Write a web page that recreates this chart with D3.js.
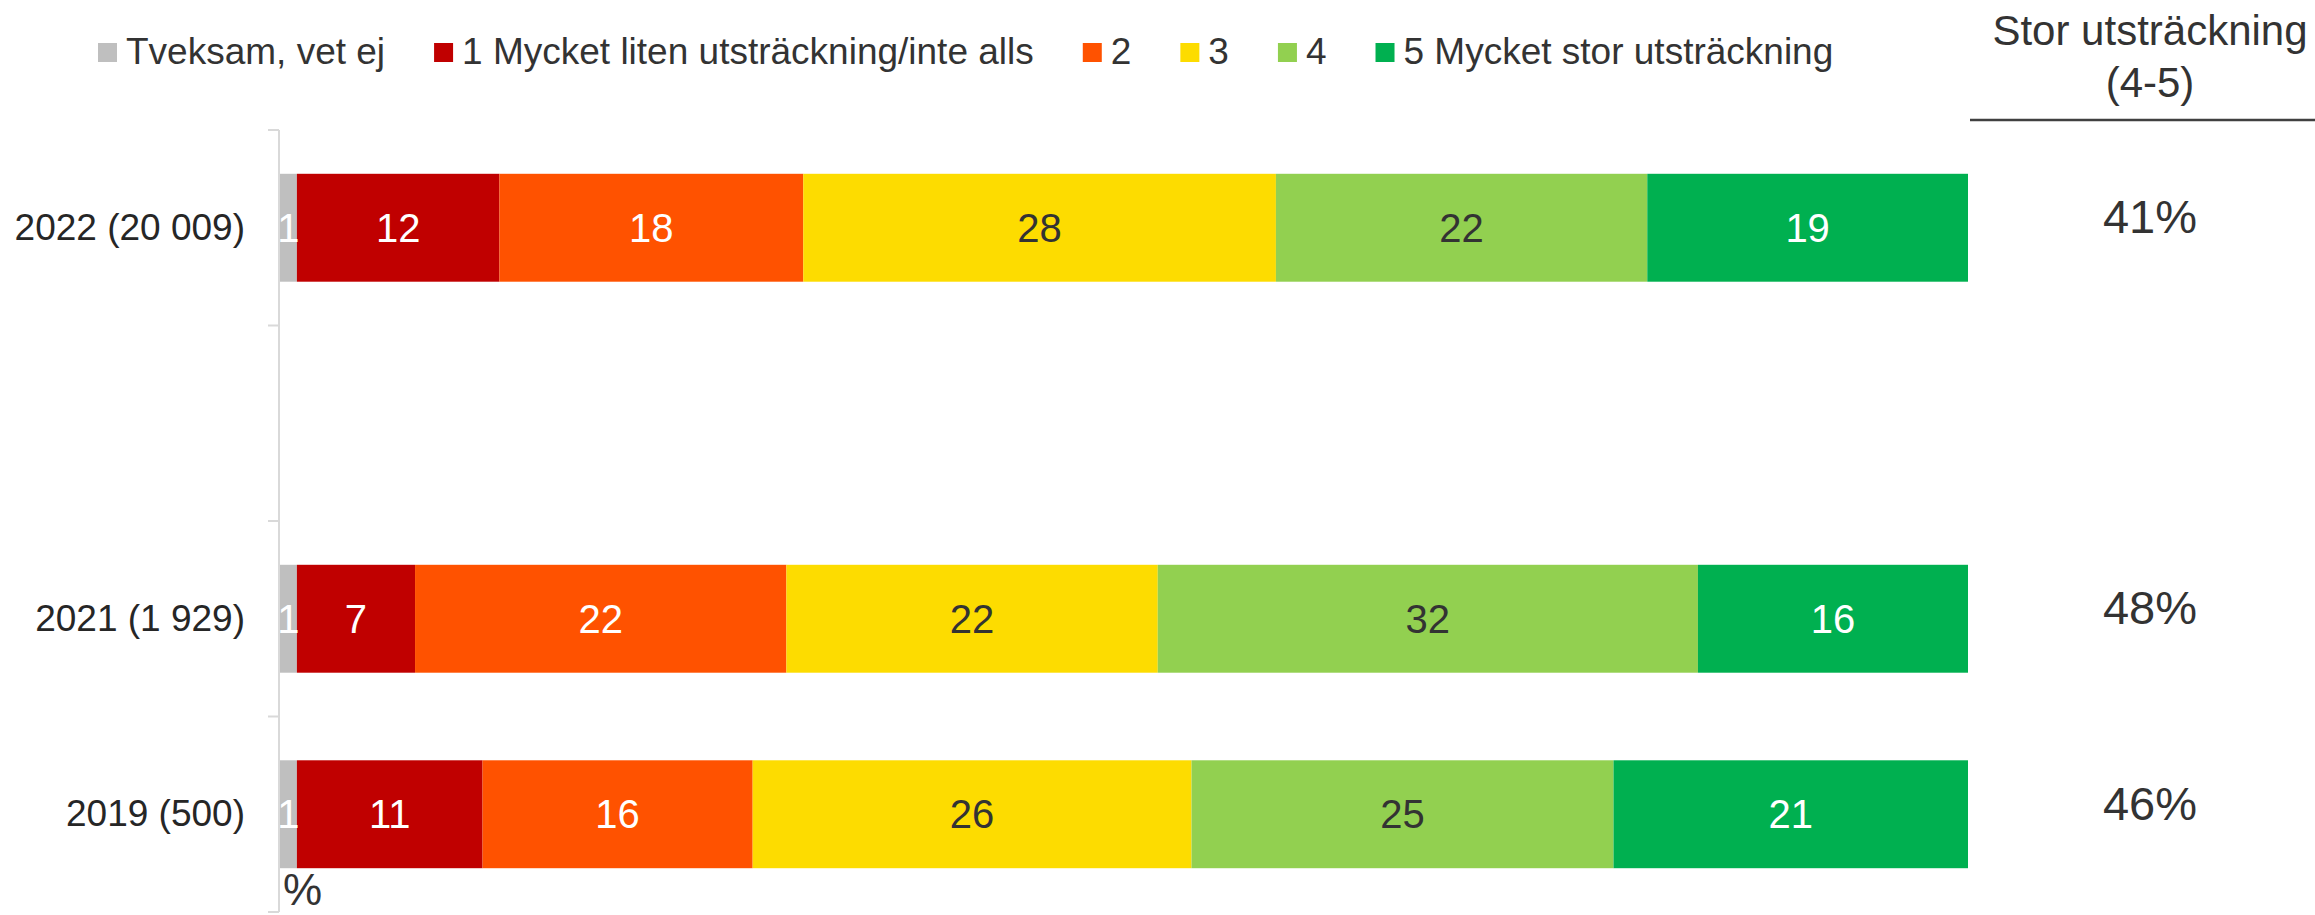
<!DOCTYPE html>
<html>
<head>
<meta charset="utf-8">
<script src="https://cdn.jsdelivr.net/npm/d3@7"></script>
<style>
  html, body { margin: 0; padding: 0; background: #fff; }
  svg { display: block; font-family: "Liberation Sans", Arial, sans-serif; }
</style>
</head>
<body>
<svg id="chart" width="2315" height="915"></svg>
<script>
// Survey rows (blank row keeps the gap between 2022 and 2021)
const categories = ["2022 (20 009)", "", "2021 (1 929)", "2019 (500)"];
const rowKeys = ["r2022", "gap", "r2021", "r2019"];

// Share of answers per response level, percent
const tveksam = [1, null, 1, 1];
const level1  = [12, null, 7, 11];
const level2  = [18, null, 22, 16];
const level3  = [28, null, 22, 26];
const level4  = [22, null, 32, 25];
const level5  = [19, null, 16, 21];

// Summed share for levels 4-5, percent
const storTotal = [41, null, 48, 46];

const seriesNames = [
  "Tveksam, vet ej",
  "1 Mycket liten utsträckning/inte alls",
  "2",
  "3",
  "4",
  "5 Mycket stor utsträckning"
];
const seriesValues = [tveksam, level1, level2, level3, level4, level5];
const seriesColors = ["#bfbfbf", "#c00000", "#ff5200", "#fddc00", "#92d050", "#00b050"];
const labelColors  = ["#ffffff", "#ffffff", "#ffffff", "#333333", "#333333", "#ffffff"];

const summaryTitle = ["Stor utsträckning", "(4-5)"];
const unitLabel = "%";

const svg = d3.select("#chart");

const plotLeft = 280, plotRight = 1968, plotTop = 130, plotBottom = 912;

const x = d3.scaleLinear().domain([0, 100]).range([plotLeft, plotRight]);
const y = d3.scaleBand()
  .domain(rowKeys)
  .range([plotTop, plotBottom])
  .paddingInner(0.448)
  .paddingOuter(0.224);

// Stack rows
const rows = rowKeys.map((k, i) => {
  const o = { key: k, label: categories[i] };
  seriesValues.forEach((arr, s) => { o["s" + s] = arr[i] == null ? 0 : arr[i]; });
  return o;
});
const stack = d3.stack().keys(seriesValues.map((_, s) => "s" + s));
const stacked = stack(rows);

// Clip to plot area
svg.append("defs").append("clipPath").attr("id", "plotClip")
  .append("rect").attr("x", plotLeft - 1).attr("y", 0)
  .attr("width", plotRight - plotLeft + 2).attr("height", 915);

const plot = svg.append("g").attr("clip-path", "url(#plotClip)");

stacked.forEach((layer, s) => {
  const g = plot.append("g");
  layer.forEach((d, i) => {
    const v = seriesValues[s][i];
    if (v == null) return;
    g.append("rect")
      .attr("x", x(d[0]))
      .attr("y", y(rowKeys[i]))
      .attr("width", x(d[1]) - x(d[0]))
      .attr("height", y.bandwidth())
      .attr("fill", seriesColors[s]);
  });
});

stacked.forEach((layer, s) => {
  layer.forEach((d, i) => {
    const v = seriesValues[s][i];
    if (v == null) return;
    plot.append("text")
      .attr("x", (x(d[0]) + x(d[1])) / 2)
      .attr("y", y(rowKeys[i]) + y.bandwidth() / 2)
      .attr("dy", "0.35em")
      .attr("text-anchor", "middle")
      .attr("font-size", 40)
      .attr("fill", labelColors[s])
      .text(v);
  });
});

// Category axis
const yAxis = d3.axisLeft(y).tickSize(0).tickPadding(34).tickFormat((k, i) => categories[i]);
const axisG = svg.append("g").attr("transform", `translate(${plotLeft - 1},0)`).call(yAxis);
axisG.select(".domain").remove();
axisG.selectAll("text").attr("font-size", 37).attr("fill", "#262626")
  .attr("font-family", "Liberation Sans, Arial, sans-serif");

// Axis line with boundary ticks between rows
const boundaries = rowKeys.map(k => y(k) - y.step() * y.paddingInner() / 2).concat([plotBottom]);
svg.append("line")
  .attr("x1", plotLeft - 1).attr("x2", plotLeft - 1)
  .attr("y1", plotTop).attr("y2", plotBottom)
  .attr("stroke", "#d9d9d9").attr("stroke-width", 2);
svg.selectAll(".btick").data(boundaries).enter().append("line")
  .attr("x1", plotLeft - 12).attr("x2", plotLeft - 1)
  .attr("y1", d => d).attr("y2", d => d)
  .attr("stroke", "#d9d9d9").attr("stroke-width", 2);

svg.append("text")
  .attr("x", 283).attr("y", 905)
  .attr("font-size", 44).attr("fill", "#333333")
  .text(unitLabel);

// Legend
const legend = svg.append("g");
let lx = 98;
seriesNames.forEach((name, s) => {
  legend.append("rect")
    .attr("x", lx).attr("y", 43).attr("width", 19).attr("height", 19)
    .attr("fill", seriesColors[s]);
  const t = legend.append("text")
    .attr("x", lx + 28).attr("y", 64)
    .attr("font-size", 37).attr("fill", "#333333")
    .text(name);
  lx += 28 + t.node().getComputedTextLength() + 49;
});

// Summary column
const sumX = 2150;
summaryTitle.forEach((line, i) => {
  svg.append("text")
    .attr("x", sumX).attr("y", 45 + i * 52)
    .attr("text-anchor", "middle")
    .attr("font-size", 42).attr("fill", "#333333")
    .text(line);
});
svg.append("line")
  .attr("x1", 1970).attr("x2", 2315)
  .attr("y1", 120).attr("y2", 120)
  .attr("stroke", "#404040").attr("stroke-width", 2.5);

storTotal.forEach((v, i) => {
  if (v == null) return;
  svg.append("text")
    .attr("x", sumX)
    .attr("y", y(rowKeys[i]) + y.bandwidth() / 2 - 11)
    .attr("dy", "0.35em")
    .attr("text-anchor", "middle")
    .attr("font-size", 47).attr("fill", "#333333")
    .text(v + "%");
});
</script>
</body>
</html>
